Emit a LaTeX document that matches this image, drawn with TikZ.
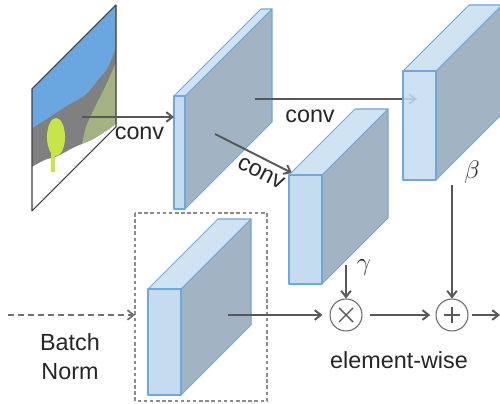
\documentclass[tikz,border=0pt]{standalone}
\usepackage{fontspec}
\setmainfont{Liberation Sans}
\usetikzlibrary{arrows.meta,calc}
\definecolor{frontc}{RGB}{197,220,240}
\definecolor{topc}{RGB}{208,227,243}
\definecolor{sidec}{RGB}{162,180,195}
\definecolor{edgec}{RGB}{111,168,220}
\definecolor{arrc}{RGB}{88,88,88}
\definecolor{skyc}{RGB}{106,166,224}
\definecolor{grayc}{RGB}{128,128,128}
\definecolor{olivec}{RGB}{163,178,131}
\definecolor{treec}{RGB}{198,230,72}
\definecolor{txtc}{RGB}{38,38,38}
\newcommand{\featmap}[7]{%
  \path[sideface] (#2+#4,#3) -- ++(#6,-#6) -- ++(0,#5) -- ++(-#6,#6) -- cycle;
  \path[topface] (#2,#3) -- ++(#6,-#6) -- ++(#4,0) -- ++(-#6,#6) -- cycle;
  \path[frontface,#7] (#2,#3) rectangle ++(#4,#5);
  \coordinate (#1) at (#2,#3);}
\begin{document}
\begin{tikzpicture}[x=0.02cm,y=-0.02cm,
  sideface/.style={fill=sidec, draw=edgec, line width=0.6pt, line join=round},
  topface/.style={fill=topc, draw=edgec, line width=0.6pt, line join=round},
  frontface/.style={fill=frontc, draw=edgec, line width=0.6pt, line join=round},
  conn/.style={draw=arrc, line width=1.1pt, -{Straight Barb[length=3.5pt,width=5.5pt]}},
  dconn/.style={draw=arrc!85, line width=1pt, dash pattern=on 3.5pt off 2.2pt, -{Straight Barb[length=3.5pt,width=5.5pt]}},
  lbl/.style={text=txtc, inner sep=0pt, font=\fontsize{13.3}{16.4}\selectfont},
  op/.style={circle, draw=arrc!90, line width=0.6pt, minimum size=0.64cm, inner sep=0pt}]
\useasboundingbox (0,0) rectangle (500,404);
\clip (0,0) rectangle (500,404);
\fill[white] (0,0) rectangle (500,404);

% input image
\begin{scope}
  \clip (32,89) -- (116,5) -- (116,127) -- (32,211) -- cycle;
  \fill[grayc] (20,0) rectangle (130,220);
  \fill[olivec] (130,60) -- plot[smooth] coordinates {(116,63) (105,87) (95,107) (86,127) (82,145)} -- (130,145) -- cycle;
  \fill[skyc] (20,0) -- (130,0) -- (130,44) -- plot[smooth] coordinates {(116,47) (108,67) (98,80) (85,95) (65,107) (45,120) (32,128)} -- (20,132) -- cycle;
  \fill[white] (130,122) -- plot[smooth] coordinates {(116,124) (108,130) (92,140) (75,147) (58,156) (45,160) (32,167)} -- (20,168) -- (20,220) -- (130,220) -- cycle;
  \fill[treec] (56,137) ellipse [x radius=9, y radius=19];
  \fill[treec] (51,145) rectangle (55,172);
\end{scope}
\draw[black!75, line width=0.6pt, line join=round] (32,89) -- (116,5) -- (116,127) -- (32,211) -- cycle;

% feature map 1
\featmap{fm1}{174}{96}{11}{113}{87}{}

% connector coordinates
\coordinate (imgout) at (82,117);
\coordinate (fm1in) at (174,117);
\coordinate (fm1a) at (255,99);
\coordinate (fm3in) at (417,99);
\coordinate (fm1b) at (215,134);
\coordinate (fm2in) at (292,173);

\draw[conn] (imgout) -- (fm1in);
\draw[conn] (fm1a) -- (fm3in);
\draw[conn] (fm1b) -- (fm2in);

% feature maps 2 and 3
\featmap{fm2}{289}{175}{33}{109}{66}{}
\featmap{fm3}{403}{71}{33}{109}{66}{fill opacity=0.85}

% batch norm box
\draw[draw=black!45, line width=0.6pt, dash pattern=on 2pt off 1.5pt] (135,213) rectangle (267,401);
\featmap{fm4}{148}{289}{33}{106}{70}{}

% operators
\node[op] (mul) at (346,315) {};
\node[op] (add) at (452,315) {};
\draw[arrc, line width=0.8pt] ($(mul)+(-7,-7)$) -- ($(mul)+(7,7)$) ($(mul)+(-7,7)$) -- ($(mul)+(7,-7)$);
\draw[arrc, line width=0.8pt] ($(add)+(-8,0)$) -- ($(add)+(8,0)$) ($(add)+(0,-8)$) -- ($(add)+(0,8)$);

\coordinate (fm2out) at (346,265);
\coordinate (fm3out) at (452,185);
\coordinate (fm4out) at (228,315);
\coordinate (bnsrc) at (8,315);
\coordinate (bnin) at (135,315);
\coordinate (outend) at (500,315);

\draw[conn] (fm2out) -- (mul.north);
\draw[conn] (fm3out) -- (add.north);
\draw[conn, shorten >=4pt] (fm4out) -- (mul.west);
\draw[conn, shorten <=4pt, shorten >=3pt] (mul.east) -- (add.west);
\draw[conn, shorten <=2pt] (add.east) -- (outend);
\draw[dconn] (bnsrc) -- (bnin);

% labels
\node[lbl] (c1) at (139.5,133.5) {conv};
\node[lbl] (c2) at (310,116) {conv};
\node[lbl, rotate=-27] (c3) at (261,173) {conv};
\node[lbl] (gam) at (364,268) {$\gamma$};
\node[lbl] (bet) at (472,172) {$\beta$};
\node[lbl, align=center] (bn) at (70,357) {Batch\\Norm};
\node[lbl] (ew) at (399,360) {element-wise};
\end{tikzpicture}
\end{document}
